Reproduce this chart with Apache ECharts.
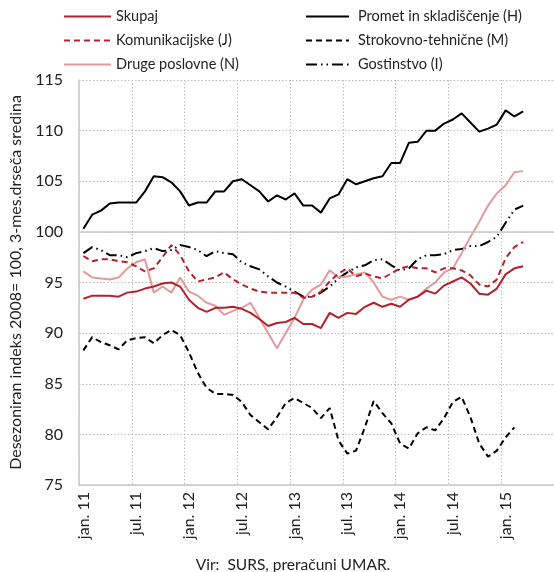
<!DOCTYPE html>
<html>
<head>
<meta charset="utf-8">
<script src="https://cdn.jsdelivr.net/npm/echarts@6/dist/echarts.min.js"></script>
<style>
  html, body { margin: 0; padding: 0; background: #fff; }
  #chart { width: 554px; height: 572px; }
</style>
</head>
<body>
<div id="chart"></div>
<script>
// mesečne kategorije jan. 11 – jun. 15
const monthNames = ['jan.', 'feb.', 'mar.', 'apr.', 'maj', 'jun.', 'jul.', 'avg.', 'sep.', 'okt.', 'nov.', 'dec.']
const years = ['11', '12', '13', '14', '15']
const categories = []
years.forEach(y => monthNames.forEach(m => categories.push(m + ' ' + y)))
categories.splice(54)

const skupaj = [93.4, 93.7, 93.7, 93.7, 93.6, 94.0, 94.1, 94.4, 94.6, 94.9, 95.0, 94.6,
  93.3, 92.5, 92.1, 92.5, 92.5, 92.6, 92.4, 92.0, 91.4, 90.7, 91.0, 91.1,
  91.5, 90.9, 90.9, 90.5, 92.0, 91.5, 92.0, 91.9, 92.6, 93.0, 92.6, 92.9,
  92.6, 93.3, 93.6, 94.2, 93.9, 94.7, 95.1, 95.5, 94.9, 93.9, 93.8, 94.4,
  95.8, 96.4, 96.6]

const komunikacijske = [97.6, 97.1, 97.3, 97.3, 97.1, 97.0, 96.6, 96.1, 96.4, 97.5, 98.7, 97.7,
  96.1, 95.1, 95.3, 95.5, 96.0, 95.3, 94.8, 94.4, 94.1, 94.0, 94.0, 94.0,
  94.0, 93.5, 93.6, 94.1, 95.1, 95.9, 96.4, 95.6, 95.9, 95.6, 95.4, 95.9,
  96.4, 96.6, 96.4, 96.4, 96.0, 96.4, 96.4, 96.2, 95.7, 94.8, 94.6, 95.3,
  97.4, 98.5, 99.0]

const druge = [96.1, 95.5, 95.4, 95.3, 95.5, 96.4, 97.0, 97.3, 94.0, 94.6, 94.0, 95.5,
  94.1, 93.7, 93.0, 92.7, 91.8, 92.2, 92.5, 93.0, 91.5, 90.0, 88.5, 90.0,
  91.5, 93.3, 94.3, 94.8, 96.2, 95.5, 95.6, 95.8, 96.0, 95.0, 93.6, 93.3,
  93.6, 93.3, 93.6, 94.4, 95.0, 96.0, 96.4, 97.9, 99.5, 101.0, 102.6, 103.8,
  104.6, 105.9, 106.0]

const promet = [100.3, 101.7, 102.1, 102.8, 102.9, 102.9, 102.9, 104.0, 105.5, 105.4, 104.9, 104.0,
  102.6, 102.9, 102.9, 104.0, 104.0, 105.0, 105.2, 104.6, 104.0, 103.0, 103.6, 103.2,
  103.8, 102.6, 102.6, 101.9, 103.3, 103.7, 105.2, 104.7, 105.0, 105.3, 105.5, 106.8,
  106.8, 108.8, 108.9, 110.0, 110.0, 110.7, 111.1, 111.7, 110.8, 109.9, 110.2, 110.6,
  112.0, 111.4, 111.9]

const strokovno = [88.3, 89.6, 89.1, 88.8, 88.4, 89.3, 89.5, 89.6, 89.0, 89.8, 90.3, 89.8,
  88.1, 86.1, 84.6, 84.0, 84.0, 83.9, 83.2, 81.9, 81.2, 80.5, 81.7, 83.1,
  83.6, 83.1, 82.6, 81.6, 82.6, 79.4, 78.1, 78.4, 80.7, 83.3, 82.1, 81.1,
  79.1, 78.6, 80.1, 80.7, 80.4, 81.6, 83.2, 83.7, 81.7, 79.1, 77.8, 78.4,
  79.7, 80.7]

const gostinstvo = [97.9, 98.5, 98.2, 97.7, 97.7, 97.5, 97.9, 98.1, 98.4, 98.1, 98.2, 98.7,
  98.5, 98.2, 97.6, 98.1, 97.9, 97.8, 97.0, 96.6, 96.3, 95.6, 95.0, 94.6,
  94.1, 93.6, 93.6, 94.0, 94.6, 95.4, 96.0, 96.5, 96.7, 97.2, 97.3, 96.7,
  96.2, 96.4, 97.3, 97.7, 97.7, 97.8, 98.2, 98.3, 98.6, 98.6, 99.0, 99.5,
  100.9, 102.2, 102.6]

const FONT = 'Lato'
const RED = '#b3222c'
const PINK = '#e5999c'

let chart = echarts.init(document.getElementById('chart'), null, {renderer: 'canvas'})

let legendBase = {
  orient: 'vertical',
  top: 9,
  padding: 0,
  itemHeight: 14,
  itemGap: 9,
  itemStyle: {opacity: 0}
}

let options = {
  animation: false,
  textStyle: {fontFamily: FONT},
  title: {
    text: 'Vir:  SURS, preračuni UMAR.',
    left: 288,
    textAlign: 'center',
    top: 552,
    textStyle: {fontFamily: FONT, fontSize: 15.5, fontWeight: 'normal', color: '#222'}
  },
  legend: [
    Object.assign({}, legendBase, {
      data: ['Skupaj', 'Komunikacijske (J)', 'Druge poslovne (N)'],
      left: 63,
      itemWidth: 47,
      textStyle: {fontFamily: FONT, fontSize: 14.5, color: '#222'}
    }),
    Object.assign({}, legendBase, {
      data: ['Promet in skladiščenje (H)', 'Strokovno-tehnične (M)', 'Gostinstvo (I)'],
      left: 305,
      itemWidth: 43,
      textStyle: {fontFamily: FONT, fontSize: 14.5, color: '#222', padding: [0, 0, 0, 4]}
    })
  ],
  grid: {left: 79, top: 80, width: 477, height: 405},
  xAxis: {
    type: 'category',
    data: categories,
    boundaryGap: true,
    axisLine: {lineStyle: {color: '#c8c8c8', width: 1.5}},
    axisTick: {show: false},
    axisLabel: {
      interval: 5,
      rotate: 90,
      margin: 7,
      fontFamily: FONT,
      fontSize: 16,
      color: '#222'
    },
    splitLine: {show: true, interval: 5, lineStyle: {color: '#bdbdbd', type: [1.5, 2], width: 1}}
  },
  yAxis: {
    type: 'value',
    min: 75,
    max: 115,
    interval: 5,
    name: 'Desezoniran indeks 2008= 100, 3-mes.drseča sredina',
    nameLocation: 'middle',
    nameGap: 50,
    nameTextStyle: {fontFamily: FONT, fontSize: 16, color: '#222'},
    axisLine: {show: true, lineStyle: {color: '#c8c8c8', width: 1.5}},
    axisTick: {show: false},
    axisLabel: {margin: 16, fontFamily: FONT, fontSize: 16, color: '#222'},
    splitLine: {lineStyle: {color: '#bdbdbd', type: [1.5, 2], width: 1}}
  },
  series: [
    {
      name: 'ref100',
      type: 'line',
      data: [],
      z: 1,
      markLine: {
        silent: true,
        symbol: 'none',
        label: {show: false},
        lineStyle: {color: '#c8c8c8', type: 'solid', width: 1.5},
        data: [{yAxis: 100}]
      }
    },
    {
      name: 'Strokovno-tehnične (M)',
      type: 'line',
      data: strokovno,
      symbol: 'none',
      lineStyle: {color: '#000', width: 2, type: [6, 4]},
      itemStyle: {color: '#000'}
    },
    {
      name: 'Gostinstvo (I)',
      type: 'line',
      data: gostinstvo,
      symbol: 'none',
      lineStyle: {color: '#000', width: 2, type: [11, 4, 1.5, 4, 1.5, 4]},
      itemStyle: {color: '#000'}
    },
    {
      name: 'Promet in skladiščenje (H)',
      type: 'line',
      data: promet,
      symbol: 'none',
      lineStyle: {color: '#000', width: 2},
      itemStyle: {color: '#000'}
    },
    {
      name: 'Druge poslovne (N)',
      type: 'line',
      data: druge,
      symbol: 'none',
      lineStyle: {color: PINK, width: 2},
      itemStyle: {color: PINK}
    },
    {
      name: 'Komunikacijske (J)',
      type: 'line',
      data: komunikacijske,
      symbol: 'none',
      lineStyle: {color: RED, width: 2, type: [6, 4]},
      itemStyle: {color: RED}
    },
    {
      name: 'Skupaj',
      type: 'line',
      data: skupaj,
      symbol: 'none',
      lineStyle: {color: RED, width: 2},
      itemStyle: {color: RED}
    }
  ]
}

chart.setOption(options)
</script>
</body>
</html>
